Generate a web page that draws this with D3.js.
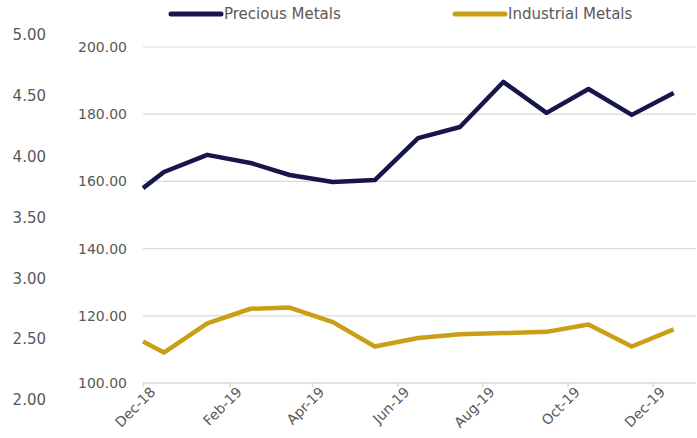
<!DOCTYPE html>
<html>
<head>
<meta charset="utf-8">
<script src="https://cdn.jsdelivr.net/npm/d3@7"></script>
<style>
  body { margin: 0; background: #fff; }
  text { font-family: "DejaVu Sans", sans-serif; fill: #595959; }
</style>
</head>
<body>
<div id="chart"></div>
<script>
// first point at start of Dec-18, then mid-month readings
var dates = ["2018-12-01", "2018-12-16", "2019-01-16", "2019-02-16", "2019-03-16", "2019-04-16", "2019-05-16",
             "2019-06-16", "2019-07-16", "2019-08-16", "2019-09-16", "2019-10-16", "2019-11-16", "2019-12-16"];
var precious = [158.0, 162.8, 167.9, 165.5, 161.9, 159.8, 160.4, 172.9, 176.2, 189.6, 180.4, 187.5, 179.8, 186.3];
var industrial = [2.48, 2.39, 2.63, 2.75, 2.76, 2.64, 2.44, 2.51, 2.54, 2.55, 2.56, 2.62, 2.44, 2.58];
var innerTicks = [100, 120, 140, 160, 180, 200];
var outerTicks = [2.0, 2.5, 3.0, 3.5, 4.0, 4.5, 5.0];
var tickDates = ["2018-12-01", "2019-02-01", "2019-04-01", "2019-06-01", "2019-08-01", "2019-10-01", "2019-12-01"];
var seriesNames = ["Precious Metals", "Industrial Metals"];
var seriesColors = ["#16164d", "#c9a015"];

var width = 697, height = 438;
var parse = d3.timeParse("%Y-%m-%d");
var fmt = d3.timeFormat("%b-%y");

var svg = d3.select("#chart").append("svg")
    .attr("width", width)
    .attr("height", height);

var x = d3.scaleTime()
    .domain([parse("2018-12-01"), parse("2020-01-01")])
    .range([143, 696]);
var yInner = d3.scaleLinear().domain([100, 200]).range([383, 47]);
var yOuter = d3.scaleLinear().domain([2, 5]).range([400, 35]);

// gridlines
svg.append("g")
    .selectAll("line")
    .data(innerTicks.slice(1))
    .enter().append("line")
        .attr("x1", 143).attr("x2", 696)
        .attr("y1", function(d){ return yInner(d); })
        .attr("y2", function(d){ return yInner(d); })
        .attr("stroke", "#d9d9d9")
        .attr("stroke-width", 1.2);

// inner axis labels
svg.append("g")
    .selectAll("text")
    .data(innerTicks)
    .enter().append("text")
        .attr("x", 127)
        .attr("y", function(d){ return yInner(d); })
        .attr("dy", "0.35em")
        .attr("text-anchor", "end")
        .style("font-size", "14px")
        .text(function(d){ return d3.format(".2f")(d); });

// outer axis labels
svg.append("g")
    .selectAll("text")
    .data(outerTicks)
    .enter().append("text")
        .attr("x", 46)
        .attr("y", function(d){ return yOuter(d); })
        .attr("dy", "0.35em")
        .attr("text-anchor", "end")
        .style("font-size", "15px")
        .text(function(d){ return d3.format(".2f")(d); });

// x axis
var xAxis = d3.axisBottom(x)
    .tickValues(tickDates.map(parse))
    .tickFormat(fmt)
    .tickSize(4)
    .tickSizeOuter(0);

var gx = svg.append("g")
    .attr("transform", "translate(0," + yInner(100) + ")")
    .call(xAxis);
gx.select(".domain").attr("stroke", "#d9d9d9").attr("stroke-width", 1.5)
    .attr("d", "M143,0H696");
gx.selectAll(".tick line").attr("stroke", "#d9d9d9").attr("stroke-width", 1.5);
gx.selectAll(".tick text")
    .attr("fill", "#595959")
    .style("font-family", "DejaVu Sans, sans-serif")
    .style("font-size", "14px")
    .attr("text-anchor", "end")
    .attr("x", 2)
    .attr("y", 9)
    .attr("dy", "0.5em")
    .attr("transform", "rotate(-45)");

// lines
var lineInner = d3.line()
    .x(function(d, i){ return x(parse(dates[i])); })
    .y(function(d){ return yInner(d); });
var lineOuter = d3.line()
    .x(function(d, i){ return x(parse(dates[i])); })
    .y(function(d){ return yOuter(d); });

svg.append("path")
    .datum(industrial)
    .attr("d", lineOuter)
    .attr("fill", "none")
    .attr("stroke", seriesColors[1])
    .attr("stroke-width", 4.5)
    .attr("stroke-linejoin", "round");

svg.append("path")
    .datum(precious)
    .attr("d", lineInner)
    .attr("fill", "none")
    .attr("stroke", seriesColors[0])
    .attr("stroke-width", 4.5)
    .attr("stroke-linejoin", "round");

// legend
var legendX = [171, 455];
var legend = svg.append("g")
    .selectAll("g")
    .data(seriesNames)
    .enter().append("g")
        .attr("transform", function(d, i){ return "translate(" + legendX[i] + ",14)"; });
legend.append("line")
    .attr("x1", 0).attr("x2", 50)
    .attr("stroke", function(d, i){ return seriesColors[i]; })
    .attr("stroke-width", 5)
    .attr("stroke-linecap", "round");
legend.append("text")
    .attr("x", 53)
    .attr("dy", "0.35em")
    .style("font-size", "15px")
    .text(function(d){ return d; });
</script>
</body>
</html>
